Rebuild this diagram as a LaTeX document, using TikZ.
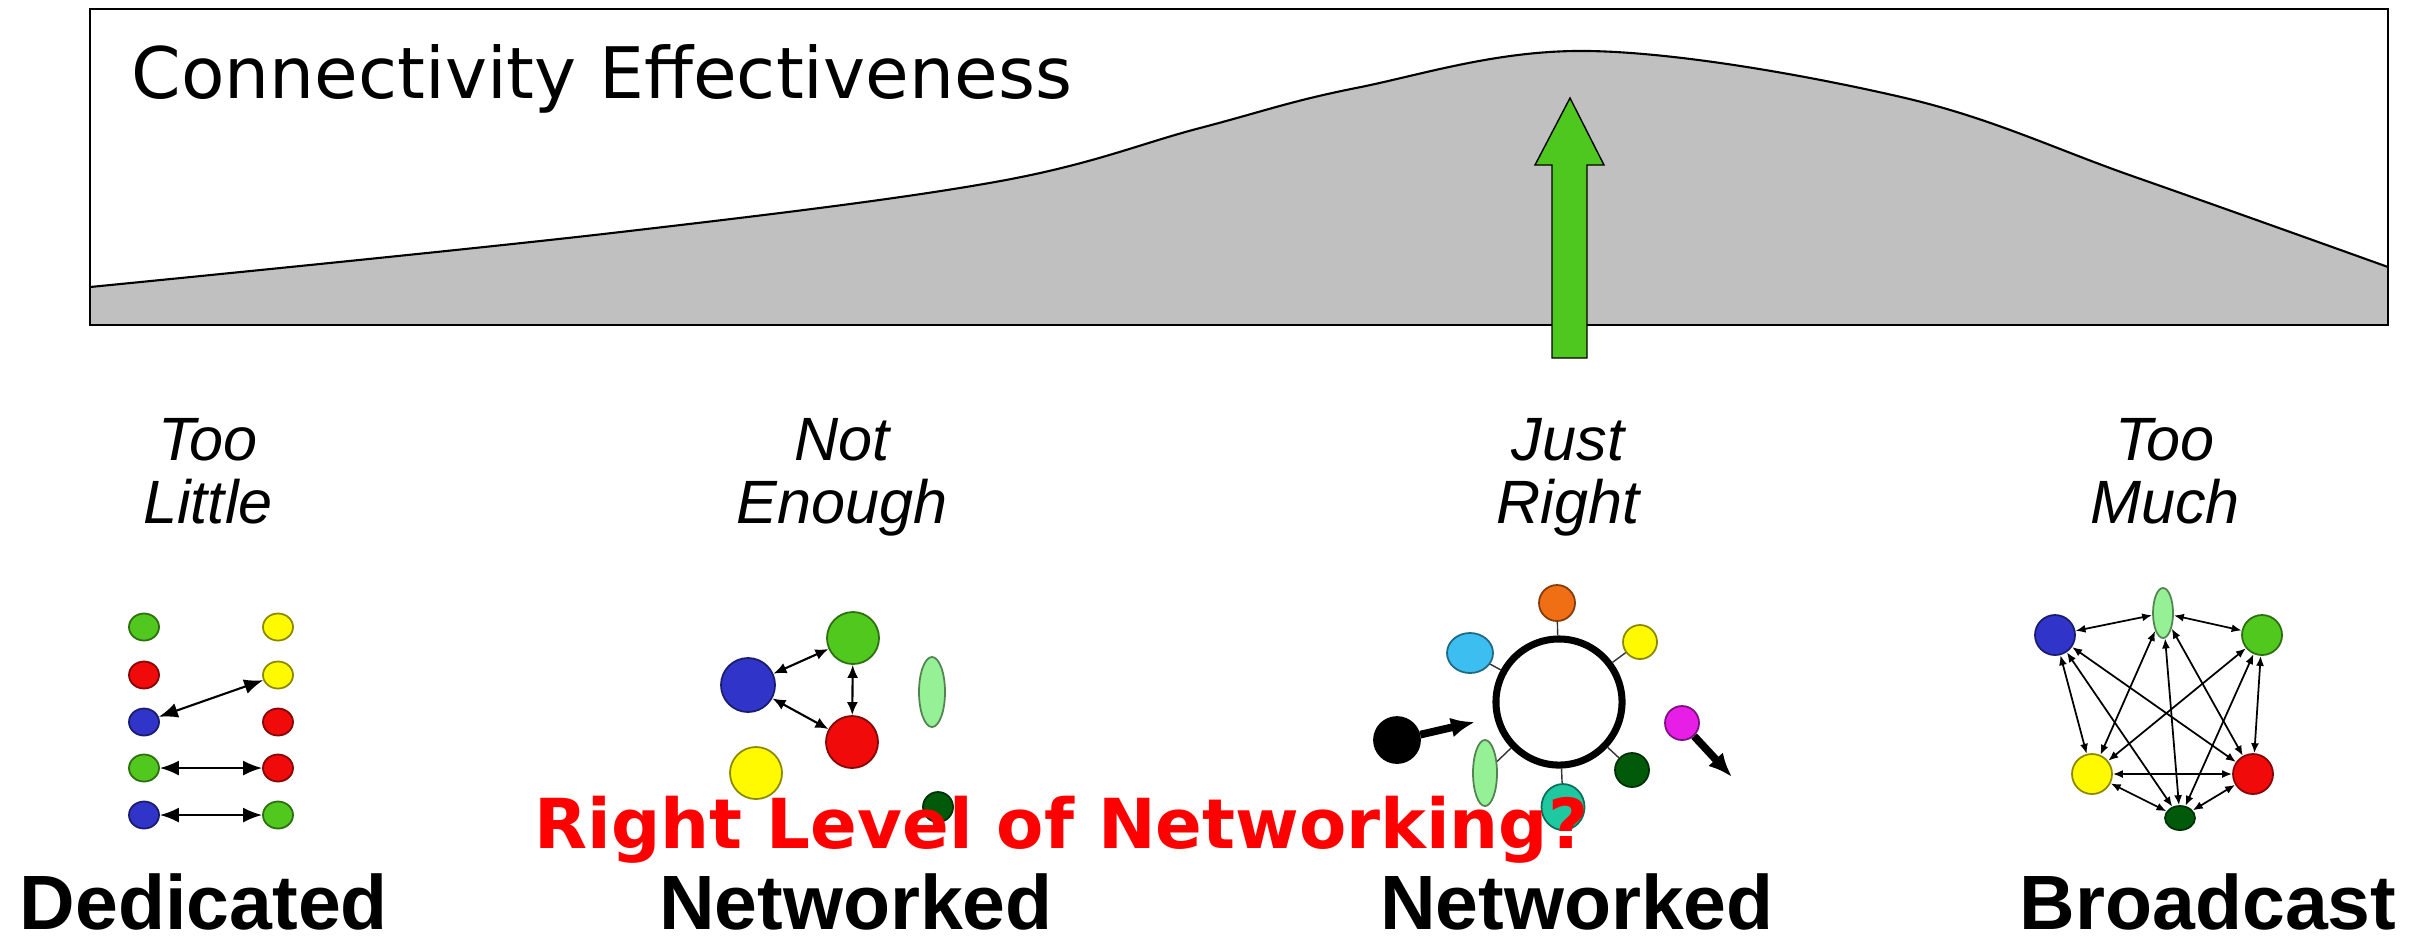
\documentclass[tikz,border=0pt]{standalone}
\usepackage{fontspec}
\setmainfont{Liberation Sans}
\newfontfamily\dejavu{DejaVu Sans}
\usetikzlibrary{shapes.geometric, arrows.meta}
\definecolor{curveGray}  {RGB}{192,192,192}
\definecolor{arrowGreen} {RGB}{ 78,200, 30}
\definecolor{dotBlue}    {RGB}{ 48, 52,200}
\definecolor{dotGreen}   {RGB}{ 80,200, 30}
\definecolor{dotRed}     {RGB}{240, 10, 10}
\definecolor{dotYellow}  {RGB}{255,250,  0}
\definecolor{dotPale}    {RGB}{150,240,150}
\definecolor{dotDark}    {RGB}{  0, 90, 10}
\definecolor{dotOrange}  {RGB}{240,110, 20}
\definecolor{dotCyan}    {RGB}{ 60,190,240}
\definecolor{dotMagenta} {RGB}{230, 30,230}
\definecolor{dotTeal}    {RGB}{ 30,200,160}
\definecolor{questRed}   {RGB}{255,  0,  0}
\tikzset{
  peer/.style={             % one station of a network sketch
    circle, inner sep=0pt,
    draw=#1!55!black, fill=#1, line width=0.5pt
  },
  peerOval/.style={
    peer=#1, ellipse
  },
  %% italic verdict above each sketch
  cue/.style={
    font=\itshape\fontsize{17.4}{17.9}\selectfont,
    align=center, inner sep=0pt
  },
  %% bold caption under each sketch
  kind/.style={
    font=\bfseries\fontsize{21.9}{24}\selectfont,
    inner sep=0pt, anchor=base
  },
  %% two-way links
  linkD/.style={
    {Latex[length=0.19cm,width=0.15cm]}-{Latex[length=0.19cm,width=0.15cm]},
    line width=0.6pt
  },
  linkN/.style={
    {Latex[length=0.13cm,width=0.11cm]}-{Latex[length=0.13cm,width=0.11cm]},
    line width=0.6pt
  },
  linkM/.style={
    {Latex[length=0.1cm,width=0.08cm]}-{Latex[length=0.1cm,width=0.08cm]},
    line width=0.5pt
  },
  %% tap from a station onto the ring
  tap/.style={line width=0.4pt, draw=black!80},
  %% heavy one-way push arrow
  push/.style={
    -{Latex[length=0.24cm,width=0.2cm]},
    line width=2.2pt
  }
}

\begin{document}
\begin{tikzpicture}[x=0.01cm, y=-0.01cm]

\useasboundingbox (0,0) rectangle (2421,944);

%% ═══════════════════════════════════════════════════════════
%%  EFFECTIVENESS CURVE
%% ═══════════════════════════════════════════════════════════

\fill[curveGray] (90,325)
  -- plot[smooth, tension=0.6] coordinates {(90,287) (612,233) (995,182) (1200,128)
    (1356,88) (1589,51) (1901,97) (2135,177) (2388,267)}
  -- (2388,325) -- cycle;
\draw[line width=0.6pt]
  plot[smooth, tension=0.6] coordinates {(90,287) (612,233) (995,182) (1200,128)
    (1356,88) (1589,51) (1901,97) (2135,177) (2388,267)};
\draw[line width=0.7pt] (90,9) rectangle (2388,325);

\node[anchor=base west, inner sep=0pt,
  font=\dejavu\fontsize{20.2}{22}\selectfont] (title) at (131,98)
  {Connectivity Effectiveness};

%% green pointer at the peak
\draw[fill=arrowGreen, line width=0.4pt]
  (1552,358) -- (1552,165) -- (1535,165) -- (1570,98)
  -- (1604,165) -- (1587,165) -- (1587,358) -- cycle;

%% ═══════════════════════════════════════════════════════════
%%  VERDICTS  (base = baseline of the lower line)
%% ═══════════════════════════════════════════════════════════

\node[cue, anchor=base] (cueLittle) at (208,523) {Too\\Little};
\node[cue, anchor=base] (cueEnough) at (842,523) {Not\\Enough};
\node[cue, anchor=base] (cueRight)  at (1568,523) {Just\\Right};
\node[cue, anchor=base] (cueMuch)   at (2165,523) {Too\\Much};

%% ═══════════════════════════════════════════════════════════
%%  DEDICATED  (point-to-point pairs)
%% ═══════════════════════════════════════════════════════════

\tikzset{every node/.append style={minimum width=0.30cm, minimum height=0.27cm}}
\node[peerOval=dotGreen]  (dL1) at (144,627) {};
\node[peerOval=dotRed]    (dL2) at (144,675) {};
\node[peerOval=dotBlue]   (dL3) at (144,722) {};
\node[peerOval=dotGreen]  (dL4) at (144,768) {};
\node[peerOval=dotBlue]   (dL5) at (144,815) {};
\node[peerOval=dotYellow] (dR1) at (278,627) {};
\node[peerOval=dotYellow] (dR2) at (278,675) {};
\node[peerOval=dotRed]    (dR3) at (278,722) {};
\node[peerOval=dotRed]    (dR4) at (278,768) {};
\node[peerOval=dotGreen]  (dR5) at (278,815) {};
\tikzset{every node/.append style={minimum width=0pt, minimum height=0pt}}

\draw[linkD] (dL3) -- (dR2);
\draw[linkD] (dL4) -- (dR4);
\draw[linkD] (dL5) -- (dR5);

%% ═══════════════════════════════════════════════════════════
%%  NOT ENOUGH NETWORKING
%% ═══════════════════════════════════════════════════════════

\node[peer=dotBlue,   minimum size=0.54cm] (nBlue)   at (748,685) {};
\node[peer=dotGreen,  minimum size=0.52cm] (nGreen)  at (853,638) {};
\node[peer=dotRed,    minimum size=0.52cm] (nRed)    at (852,742) {};
\node[peer=dotYellow, minimum size=0.52cm] (nYellow) at (756,773) {};
\node[peerOval=dotPale, minimum width=0.26cm, minimum height=0.70cm] (nPale) at (932,692) {};
\node[peer=dotDark,   minimum size=0.30cm] (nDark)   at (938,807) {};

\draw[linkN] (nBlue) -- (nGreen);
\draw[linkN] (nBlue) -- (nRed);
\draw[linkN] (nGreen) -- (nRed);

%% ═══════════════════════════════════════════════════════════
%%  JUST RIGHT  (shared ring)
%% ═══════════════════════════════════════════════════════════

\node[circle, draw, line width=2pt, minimum size=1.26cm, inner sep=0pt] (ring) at (1559,702) {};

\node[peer=dotOrange,  minimum size=0.36cm] (jOrange)  at (1557,603) {};
\node[peer=dotYellow,  minimum size=0.34cm] (jYellow)  at (1640,642) {};
\node[peerOval=dotCyan, minimum width=0.46cm, minimum height=0.40cm] (jCyan) at (1470,653) {};
\node[peer=black,      minimum size=0.46cm] (jBlack)   at (1397,740) {};
\node[peer=dotMagenta, minimum size=0.34cm] (jMagenta) at (1682,723) {};
\node[peer=dotDark,    minimum size=0.34cm] (jDark)    at (1632,770) {};
\node[peerOval=dotTeal, minimum width=0.43cm, minimum height=0.46cm] (jTeal) at (1563,807) {};
\node[peerOval=dotPale, minimum width=0.24cm, minimum height=0.66cm] (jPale) at (1485,773) {};

\draw[tap] (jOrange) -- (ring);
\draw[tap] (jYellow) -- (ring);
\draw[tap] (jCyan) -- (ring);
\draw[tap] (jDark) -- (ring);
\draw[tap] (jTeal) -- (ring);
\draw[tap] (jPale) -- (ring);

\coordinate (jIn)  at (1475,722);
\coordinate (jOut) at (1732,777);
\draw[push] (jBlack) -- (jIn);
\draw[push] (jMagenta) -- (jOut);

%% ═══════════════════════════════════════════════════════════
%%  TOO MUCH  (everyone to everyone)
%% ═══════════════════════════════════════════════════════════

\node[peer=dotBlue,   minimum size=0.40cm] (mBlue)   at (2055,635) {};
\node[peerOval=dotPale, minimum width=0.20cm, minimum height=0.50cm] (mPale) at (2163,613) {};
\node[peer=dotGreen,  minimum size=0.40cm] (mGreen)  at (2262,635) {};
\node[peer=dotYellow, minimum size=0.40cm] (mYellow) at (2092,774) {};
\node[peer=dotRed,    minimum size=0.40cm] (mRed)    at (2253,774) {};
\node[peerOval=dotDark, minimum width=0.30cm, minimum height=0.24cm] (mDark) at (2180,818) {};

\draw[linkM] (mBlue) -- (mPale);
\draw[linkM] (mPale) -- (mGreen);
\draw[linkM] (mBlue) -- (mYellow);
\draw[linkM] (mBlue) -- (mRed);
\draw[linkM] (mBlue) -- (mDark);
\draw[linkM] (mPale) -- (mYellow);
\draw[linkM] (mPale) -- (mDark);
\draw[linkM] (mPale) -- (mRed);
\draw[linkM] (mGreen) -- (mYellow);
\draw[linkM] (mGreen) -- (mDark);
\draw[linkM] (mGreen) -- (mRed);
\draw[linkM] (mYellow) -- (mRed);
\draw[linkM] (mYellow) -- (mDark);
\draw[linkM] (mRed) -- (mDark);

%% ═══════════════════════════════════════════════════════════
%%  CAPTIONS
%% ═══════════════════════════════════════════════════════════

\node[kind] (kDedicated) at (204,929)  {Dedicated};
\node[kind] (kNetA)      at (856,929)  {Networked};
\node[kind] (kNetB)      at (1577,929) {Networked};
\node[kind] (kBroadcast) at (2208,929) {Broadcast};

\node[anchor=base west, inner sep=0pt, text=questRed,
  font=\dejavu\bfseries\fontsize{19.6}{22}\selectfont] (question) at (534,848)
  {Right Level of Networking?};

\end{tikzpicture}
\end{document}
